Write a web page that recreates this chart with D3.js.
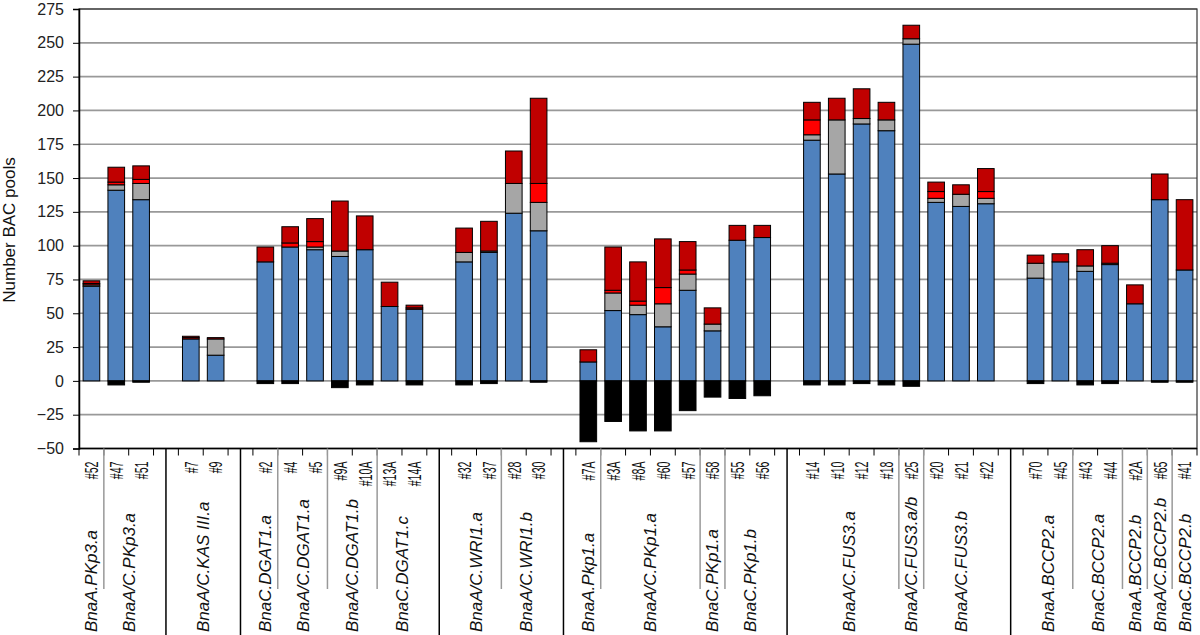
<!DOCTYPE html>
<html>
<head>
<meta charset="utf-8">
<script src="https://cdn.jsdelivr.net/npm/d3@7"></script>
<style>
  body { margin: 0; background: #fff; }
  text { font-family: "Liberation Sans", Arial, sans-serif; }
</style>
</head>
<body>
<script>
// ---------------- DATA ----------------
const barIds = ["#52","#47","#51","#7","#9","#2","#4","#5","#9A","#10A","#13A","#14A",
  "#32","#37","#28","#30","#7A","#3A","#8A","#60","#57","#58","#55","#56",
  "#14","#10","#12","#18","#25","#20","#21","#22","#70","#45","#43","#44","#2A","#65","#41"];
const groupSizes = [3, 2, 7, 4, 8, 8, 7];
const geneNames = ["BnaA.PKp3.a","BnaA/C.PKp3.a","BnaA/C.KAS III.a","BnaC.DGAT1.a","BnaA/C.DGAT1.a",
  "BnaA/C.DGAT1.b","BnaC.DGAT1.c","BnaA/C.WRI1.a","BnaA/C.WRI1.b","BnaA.Pkp1.a","BnaA/C.PKp1.a",
  "BnaC.PKp1.a","BnaC.PKp1.b","BnaA/C.FUS3.a","BnaA/C.FUS3.a/b","BnaA/C.FUS3.b","BnaA.BCCP2.a",
  "BnaC.BCCP2.a","BnaA.BCCP2.b","BnaA/C.BCCP2.b","BnaC.BCCP2.b"];
const geneSizes = [1,2,2,1,2,2,2,2,2,1,4,1,2,4,1,3,2,2,1,1,1];

const blueVals     = [70,141,134,31,19,88,99,97,92,97,55,53,88,95,124,111,14,52,49,40,67,37,104,106,178,153,190,185,249,132,129,131,76,88,81,86,57,134,82];
const grayVals     = [1,4,12,0,12,0,0,2,4,0,0,0,7,1,22,21,0,13,7,17,12,5,0,0,4,40,4,8,4,3,9,4,11,0,4,1,0,0,0];
const lightRedVals = [1,2,3,1,0,0,3,4,0,0,0,1,0,0,0,14,0,2,3,12,3,0,0,0,11,0,0,0,0,5,0,5,0,0,0,0,0,0,0];
const darkRedVals  = [2,11,10,1,1,11,12,17,37,25,18,2,18,22,24,63,9,32,29,36,21,12,11,9,13,16,22,13,10,7,7,17,6,6,12,13,14,19,52];
const blackVals    = [0,-3,-1,0,0,-2,-2,0,-5,-3,0,-3,-3,-2,0,-1,-45,-30,-37,-37,-22,-12,-13,-11,-3,-3,-2,-3,-4,0,0,0,-2,0,-3,-2,0,-1,-1];

const yTicks = [-50,-25,0,25,50,75,100,125,150,175,200,225,250,275];
const yTitle = "Number BAC pools";

// ---------------- LAYOUT ----------------
const W = 1200, H = 635;
const pLeft = 79, pRight = 1197, pTop = 9, pBottom = 448.5;
const colors = {blue:"#4F81BD", gray:"#A6A6A6", lightRed:"#FF0000", darkRed:"#C00000", black:"#000000"};

const svg = d3.select("body").append("svg").attr("width", W).attr("height", H);

// slots: bars with gap slots between groups
const slotKeys = [];
const groupOfBar = [];
let bi = 0;
groupSizes.forEach((n, g) => {
  for (let k = 0; k < n; k++) { slotKeys.push("b" + bi); groupOfBar.push(g); bi++; }
  if (g < groupSizes.length - 1) slotKeys.push("gap" + g);
});

const x = d3.scaleBand().domain(slotKeys).range([pLeft, pRight]);
const y = d3.scaleLinear().domain([-50, 275]).range([pBottom, pTop]);
const bw = x.bandwidth();
const barW = bw * 0.67;

// gridlines
svg.append("g").selectAll("line").data(yTicks).join("line")
  .attr("x1", pLeft).attr("x2", pRight)
  .attr("y1", d => y(d)).attr("y2", d => y(d))
  .attr("stroke", "#999").attr("stroke-width", 1.7);

// stacked data
const rows = barIds.map((id, i) => ({
  key: "b" + i, id,
  blue: blueVals[i], gray: grayVals[i], lightRed: lightRedVals[i], darkRed: darkRedVals[i], black: blackVals[i]
}));
const keys = ["blue","gray","lightRed","darkRed","black"];
const series = d3.stack().keys(keys).offset(d3.stackOffsetDiverging)(rows);

series.forEach(s => {
  svg.append("g").selectAll("rect").data(s.filter(d => d[1] !== d[0])).join("rect")
    .attr("x", d => x(d.data.key) + (bw - barW) / 2)
    .attr("width", barW)
    .attr("y", d => y(Math.max(d[0], d[1])))
    .attr("height", d => Math.abs(y(d[0]) - y(d[1])))
    .attr("fill", colors[s.key])
    .attr("stroke", "#000").attr("stroke-width", 1);
});

// plot border
svg.append("rect").attr("x", pLeft).attr("y", pTop).attr("width", pRight - pLeft).attr("height", pBottom - pTop)
  .attr("fill", "none").attr("stroke", "#333").attr("stroke-width", 1.2);

// y axis
const yAxis = svg.append("g").attr("transform", `translate(${pLeft},0)`)
  .call(d3.axisLeft(y).tickValues(yTicks).tickSize(6).tickPadding(9).tickFormat(d3.format("d")));
yAxis.select(".domain").attr("stroke", "#000").attr("stroke-width", 1.5);
yAxis.selectAll(".tick line").attr("stroke", "#000");
yAxis.selectAll(".tick text").attr("font-size", 16).attr("fill", "#222")
  .attr("font-family", "Liberation Sans, Arial, sans-serif");

// bottom axis line
svg.append("line").attr("x1", pLeft).attr("x2", pRight).attr("y1", pBottom).attr("y2", pBottom)
  .attr("stroke", "#000").attr("stroke-width", 1.5);

// x ticks at slot boundaries
const boundaries = slotKeys.map(k => x(k)).concat([pRight]);
svg.append("g").selectAll("line").data(boundaries).join("line")
  .attr("x1", d => d).attr("x2", d => d).attr("y1", pBottom).attr("y2", pBottom + 7)
  .attr("stroke", "#000").attr("stroke-width", 1);

// bar id labels (condensed, as in the original)
svg.append("g").selectAll("text").data(rows).join("text")
  .attr("transform", d => `translate(${x(d.key) + bw / 2},${pBottom + 13}) rotate(-90) scale(0.56,1)`)
  .attr("text-anchor", "end").attr("dy", "0.36em")
  .attr("font-size", 19).attr("fill", "#111")
  .text(d => d.id);

// gene labels & gray separators
let start = 0;
const geneSpans = geneNames.map((name, i) => {
  const s = start, e = start + geneSizes[i] - 1;
  start += geneSizes[i];
  return {name, s, e};
});
svg.append("g").selectAll("text").data(geneSpans).join("text")
  .attr("transform", d => {
    const cx = (x("b" + d.s) + x("b" + d.e) + bw) / 2;
    return `translate(${cx},632) rotate(-90)`;
  })
  .attr("text-anchor", "start").attr("dy", "0.35em")
  .attr("font-size", 17).attr("font-style", "italic").attr("fill", "#111")
  .text(d => d.name);

const graySeps = geneSpans.slice(1)
  .filter(d => groupOfBar[d.s] === groupOfBar[d.s - 1])
  .map(d => x("b" + d.s));
svg.append("g").selectAll("line").data(graySeps).join("line")
  .attr("x1", d => d).attr("x2", d => d).attr("y1", pBottom).attr("y2", 589)
  .attr("stroke", "#999").attr("stroke-width", 1.5);

// black group separators at gap centres
const gapKeys = slotKeys.filter(k => k.startsWith("gap"));
svg.append("g").selectAll("line").data(gapKeys).join("line")
  .attr("x1", d => x(d) + bw / 2).attr("x2", d => x(d) + bw / 2)
  .attr("y1", pBottom).attr("y2", H)
  .attr("stroke", "#000").attr("stroke-width", 1.5);

// y title
svg.append("text")
  .attr("transform", "translate(9.5,230) rotate(-90)")
  .attr("text-anchor", "middle").attr("dy", "0.35em")
  .attr("font-size", 17).attr("fill", "#111")
  .text(yTitle);
</script>
</body>
</html>
